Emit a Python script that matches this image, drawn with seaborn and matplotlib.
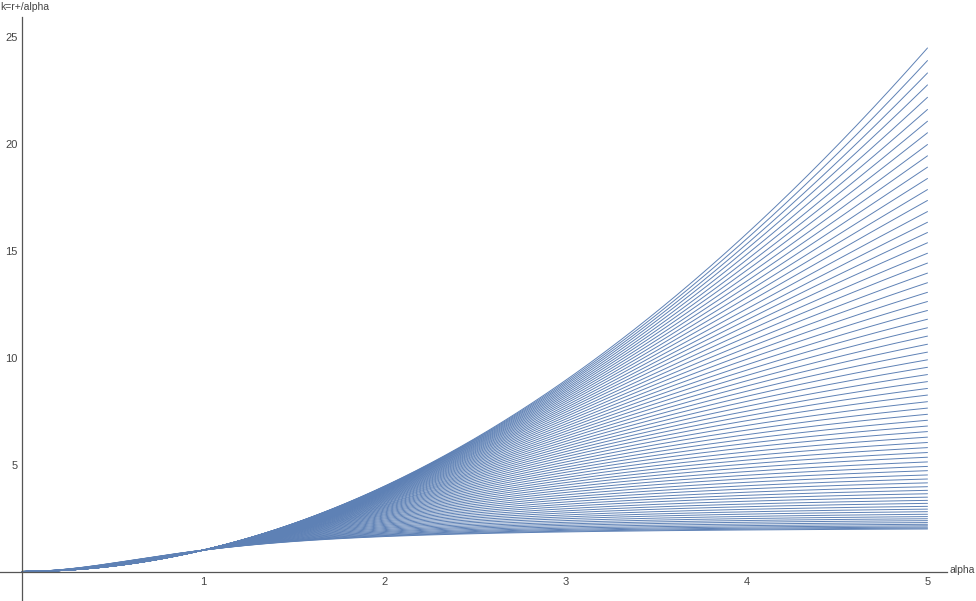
import numpy as np
import pandas as pd
import matplotlib
matplotlib.use("Agg")
import matplotlib.pyplot as plt
from matplotlib.ticker import FixedLocator
import seaborn as sns

# Values of each curve at alpha = 5 (top to bottom)
end_values = [24.51, 23.92, 23.34, 22.78, 22.20, 21.63, 21.08, 20.54, 19.99, 19.46,
              18.93, 18.40, 17.88, 17.37, 16.85, 16.35, 15.87, 15.39, 14.90, 14.44,
              13.97, 13.52, 13.07, 12.64, 12.22, 11.81, 11.41, 11.02, 10.64, 10.27,
              9.91, 9.56, 9.22, 8.89, 8.57, 8.26, 7.95, 7.65, 7.36, 7.08,
              6.81, 6.55, 6.29, 6.04, 5.80, 5.57, 5.35, 5.13, 4.92, 4.72,
              4.52, 4.33, 4.15, 3.97, 3.80, 3.64, 3.48, 3.33, 3.19, 3.05,
              2.92, 2.80, 2.68, 2.57, 2.47, 2.38, 2.29, 2.21, 2.14, 2.08,
              2.03, 1.99]
alpha_max = 5.0
x_major = [1, 2, 3, 4, 5]
y_major = [5, 10, 15, 20, 25]
x_label = "alpha"
y_label = "k=r+/alpha"

# curve family through (0,0) and (1,1): k = a^2 (1+c) / (1 + c a^2)
alpha = np.linspace(0, alpha_max, 500)
rows = []
for i, e in enumerate(end_values):
    c = (alpha_max**2 - e) / (alpha_max**2 * (e - 1))
    k = alpha**2 * (1 + c) / (1 + c * alpha**2)
    rows.append(pd.DataFrame({"alpha": alpha, "k": k, "curve": i}))
df = pd.concat(rows, ignore_index=True)

sns.set_style("white")
plt.rcParams["font.family"] = ["Liberation Sans", "DejaVu Sans"]

W, H = 976, 601
fig = plt.figure(figsize=(W / 100, H / 100), dpi=100)
ax = fig.add_axes([0, 0, 1, 1])
ax.patch.set_alpha(0)

blue = "#5E81B5"
sns.lineplot(data=df, x="alpha", y="k", units="curve", estimator=None,
             color=blue, lw=0.7, ax=ax, legend=False, sort=False)

# pixel mapping: alpha 0 at x=22, 181.1 px/unit; k 0 at y=571.5, 21.36 px/unit
px_x, px_y = 181.1, 21.36
x0, y0 = 22, 571.5
ax.set_xlim(-x0 / px_x, (W - x0) / px_x)
ax.set_ylim(-(H - y0) / px_y, y0 / px_y)

axis_col = "#555555"
for s in ["top", "right"]:
    ax.spines[s].set_visible(False)
ax.spines["left"].set_position(("data", 0))
ax.spines["bottom"].set_position(("data", 0))
ax.spines["bottom"].set_bounds(-x0 / px_x, (946.7 - x0) / px_x)
ax.spines["left"].set_bounds(-(H - y0) / px_y, (y0 - 17) / px_y)
for s in ["left", "bottom"]:
    ax.spines[s].set_color(axis_col)
    ax.spines[s].set_linewidth(0.9)

ax.xaxis.set_major_locator(FixedLocator(x_major))
ax.yaxis.set_major_locator(FixedLocator(y_major))
ax.xaxis.set_minor_locator(FixedLocator([v for v in np.arange(0.2, 5.01, 0.2)
                                         if abs(v - round(v)) > 1e-6]))
ax.yaxis.set_minor_locator(FixedLocator([v for v in range(-1, 26)
                                         if v != 0 and v % 5 != 0]))
ax.set_xticklabels([str(v) for v in x_major])
ax.set_yticklabels([str(v) for v in y_major])
ax.tick_params(axis="both", which="major", direction="in", length=3.4, width=0.8,
               color=axis_col, labelcolor="#444444", labelsize=8, pad=3)
ax.tick_params(axis="both", which="minor", direction="in", length=2.2, width=0.7,
               color=axis_col)
ax.tick_params(axis="x", which="major", pad=4)
ax.set_xlabel("")
ax.set_ylabel("")

ax.text(975 / W, 1 - 570 / H, x_label, transform=fig.transFigure, ha="right",
        va="center", fontsize=7.5, color="#444444")
ax.text(0 / W, 1 - 7 / H, y_label, transform=fig.transFigure, ha="left",
        va="center", fontsize=7.5, color="#444444")

fig.savefig("out.png", dpi=100)
